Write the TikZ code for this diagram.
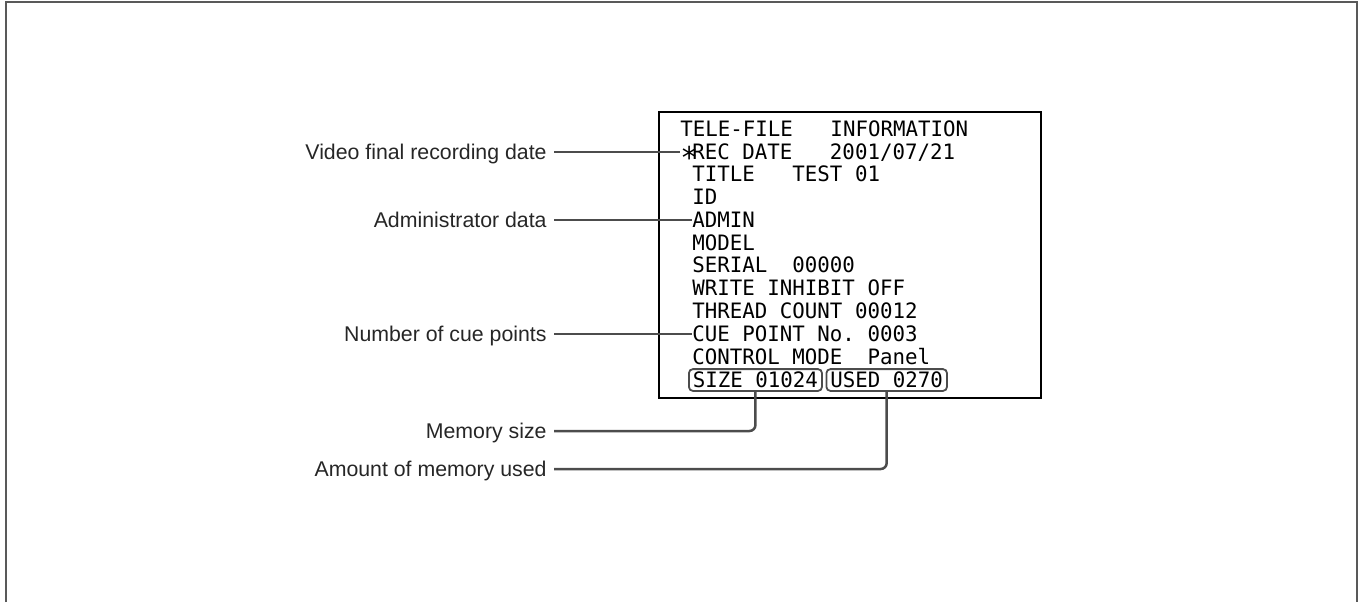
\documentclass[tikz,border=0pt]{standalone}
\usepackage{fontspec}
\setmainfont{Liberation Sans}
\newfontfamily\scrfont[FakeStretch=0.98]{DejaVu Sans Mono}
\usepackage{tikz}

\begin{document}
\begin{tikzpicture}[
  x=0.5pt, y=-0.5pt,
  frame/.style={draw=gray!70!black, line width=1pt},
  screen/.style={draw=black, line width=0.75pt},
  scr/.style={font=\scrfont\fontsize{10.6}{12}\selectfont, inner sep=0pt, text height=7.7pt, text depth=0pt, anchor=west},
  memo/.style={scr, draw=gray!60!black, line width=0.9pt, rounded corners=2pt, inner xsep=2pt, inner ysep=1.6pt},
  lab/.style={font=\fontsize{10.65}{12}\selectfont, text=black!85, inner sep=0pt, text height=7.6pt, text depth=0pt, anchor=east},
  lead/.style={draw=gray!60!black, line width=1.25pt, shorten <=3.5pt}
]
  \useasboundingbox (0,0) rectangle (1358,602);
  \draw[frame] (5.5,602) -- (5.5,2) -- (1356.5,2) -- (1356.5,602);

  % monitor screen, one node per line (pixel units)
  \draw[screen] (659,112) rectangle (1041,398);
  \node[scr] (head) at (680,129) {TELE-FILE~~~INFORMATION};
  \node[scr] (recdate) at (680,152) {\makebox[6pt][l]{\raisebox{-4.5pt}[4pt][0pt]{\fontsize{15}{15}\selectfont *}}REC~DATE~~~2001/07/21};
  \node[scr] (ttl) at (692,173.5) {TITLE~~~TEST~01};
  \node[scr] (id) at (692,196.5) {ID};
  \node[scr] (admin) at (692,220) {ADMIN};
  \node[scr] (model) at (692,243) {MODEL};
  \node[scr] (serial) at (692,265) {SERIAL~~00000};
  \node[scr] (inhibit) at (692,288) {WRITE~INHIBIT~OFF};
  \node[scr] (thread) at (692,311) {THREAD~COUNT~00012};
  \node[scr] (cue) at (692,334) {CUE~POINT~No.~0003};
  \node[scr] (ctrl) at (692,357) {CONTROL~MODE~~Panel};
  \node[memo] (sizebox) at (688,380) {SIZE~01024};
  \node[memo] (usedbox) at (825.5,380) {USED~0270};

  \node[lab] (lblrec) at (547,152) {Video final recording date};
  \node[lab] (lbladmin) at (547,220) {Administrator data};
  \node[lab] (lblcue) at (547,334) {Number of cue points};
  \node[lab] (lblsize) at (547,431) {Memory size};
  \node[lab] (lblused) at (547,469) {Amount of memory used};

  \draw[lead] (lblrec.east) -- (recdate.west);
  \draw[lead] (lbladmin.east) -- (admin.west);
  \draw[lead] (lblcue.east) -- (cue.west);
  \draw[lead, rounded corners=3pt] (lblsize.east) -| (sizebox.south);
  \draw[lead, rounded corners=3pt] (lblused.east) -| (usedbox.south);
\end{tikzpicture}
\end{document}
